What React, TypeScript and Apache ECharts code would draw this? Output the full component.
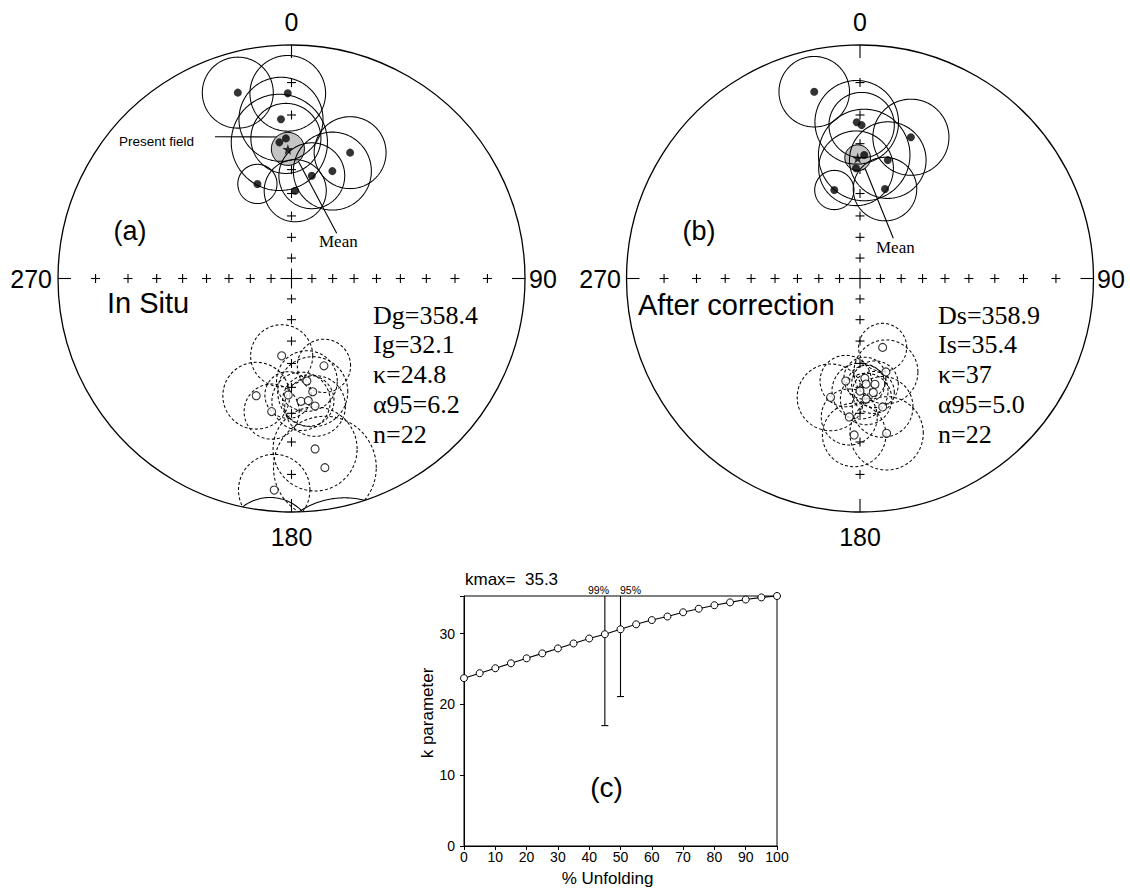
import React, { useEffect, useRef } from 'react';
import * as echarts from 'echarts';

// ---------- Stereonet data (Wulff net, projected east / north, radius = primitive units) ----------
// [east, north, alpha95-circle radius]
const inSituLower: number[][] = [
  [-0.230, 0.796, 0.152],
  [-0.016, 0.793, 0.162],
  [-0.045, 0.682, 0.180],
  [-0.052, 0.583, 0.206],
  [-0.024, 0.600, 0.150],
  [0.251, 0.539, 0.154],
  [0.175, 0.460, 0.167],
  [0.087, 0.440, 0.141],
  [-0.146, 0.405, 0.084],
  [0.016, 0.376, 0.133],
];
const inSituUpper: number[][] = [
  [-0.042, -0.331, 0.133],
  [0.139, -0.374, 0.114],
  [0.066, -0.439, 0.130],
  [0.091, -0.485, 0.150],
  [-0.151, -0.502, 0.143],
  [-0.014, -0.499, 0.100],
  [0.041, -0.526, 0.125],
  [0.072, -0.523, 0.110],
  [0.101, -0.546, 0.130],
  [-0.085, -0.570, 0.118],
  [0.101, -0.730, 0.180],
  [0.143, -0.810, 0.220],
  [-0.074, -0.906, 0.153],
];
const tiltLower: number[][] = [
  [-0.196, 0.800, 0.151],
  [-0.014, 0.669, 0.179],
  [0.007, 0.657, 0.140],
  [0.218, 0.605, 0.163],
  [0.018, 0.529, 0.196],
  [0.119, 0.507, 0.164],
  [-0.017, 0.472, 0.160],
  [-0.110, 0.379, 0.084],
  [0.107, 0.383, 0.136],
];
const tiltUpper: number[][] = [
  [0.097, -0.295, 0.103],
  [0.111, -0.400, 0.137],
  [0.021, -0.427, 0.090],
  [-0.061, -0.439, 0.110],
  [0.026, -0.452, 0.080],
  [0.064, -0.453, 0.100],
  [0.000, -0.482, 0.120],
  [0.057, -0.488, 0.090],
  [0.026, -0.516, 0.110],
  [-0.126, -0.509, 0.143],
  [0.097, -0.550, 0.130],
  [-0.046, -0.593, 0.120],
  [-0.025, -0.670, 0.136],
  [0.114, -0.663, 0.157],
];

// statistics: D, I, kappa, alpha95, n
const statNamesA = ['Dg', 'Ig', 'κ', 'α95', 'n'];
const statValuesA = ['358.4', '32.1', '24.8', '6.2', '22'];
const statNamesB = ['Ds', 'Is', 'κ', 'α95', 'n'];
const statValuesB = ['358.9', '35.4', '37', '5.0', '22'];

// net graticule (colatitudes, degrees)
const netTicks = [10, 20, 30, 40, 50, 60, 70, 80];

// ---------- fold test data ----------
const unfoldPct = [0, 5, 10, 15, 20, 25, 30, 35, 40, 45, 50, 55, 60, 65, 70, 75, 80, 85, 90, 95, 100];
const kParam = [23.7, 24.4, 25.1, 25.8, 26.5, 27.2, 27.9, 28.6, 29.3, 29.9, 30.6, 31.3, 31.9, 32.4, 33.0, 33.5, 34.0, 34.4, 34.8, 35.1, 35.3];
const kMax = 35.3;
const confPct = [45, 50];
const confLow = [17.0, 21.1];
const confNames = ['99%', '95%'];
const xTicks = [0, 10, 20, 30, 40, 50, 60, 70, 80, 90, 100];

const SANS = 'Liberation Sans';
const SERIF = 'Liberation Serif';

function meanGeom(dec: number, inc: number, a95: number) {
  const th = ((90 - inc) * Math.PI) / 180;
  const a = (a95 * Math.PI) / 180;
  const d = (dec * Math.PI) / 180;
  const rho = Math.tan(th / 2);
  const r1 = Math.tan((th - a) / 2);
  const r2 = Math.tan((th + a) / 2);
  const rc = (r1 + r2) / 2;
  return {
    pt: [rho * Math.sin(d), rho * Math.cos(d)],
    circle: [rc * Math.sin(d), rc * Math.cos(d), (r2 - r1) / 2],
  };
}

const seg = (x1: number, y1: number, x2: number, y2: number, w = 1.1) => ({
  type: 'line',
  shape: { x1, y1, x2, y2 },
  style: { stroke: '#000', lineWidth: w },
});

function netSeries(gi: number) {
  return {
    type: 'custom',
    xAxisIndex: gi,
    yAxisIndex: gi,
    z: 1,
    silent: true,
    data: [[0, 0]],
    renderItem: (_p: any, api: any) => {
      const c = api.coord([0, 0]);
      const R = api.size([1, 1])[0];
      const children: any[] = [
        { type: 'circle', shape: { cx: c[0], cy: c[1], r: R }, style: { fill: 'none', stroke: '#000', lineWidth: 1.3 } },
      ];
      const arm = 4.5;
      const dirs = [[1, 0], [-1, 0], [0, 1], [0, -1]];
      netTicks.forEach((t) => {
        const rho = Math.tan(((t / 2) * Math.PI) / 180);
        dirs.forEach(([dx, dy]) => {
          const p = api.coord([dx * rho, dy * rho]);
          children.push(seg(p[0] - arm, p[1], p[0] + arm, p[1]));
          children.push(seg(p[0], p[1] - arm, p[0], p[1] + arm));
        });
      });
      children.push(seg(c[0] - 11, c[1], c[0] + 11, c[1]));
      children.push(seg(c[0], c[1] - 10, c[0], c[1] + 10));
      dirs.forEach(([dx, dy]) => {
        const p = api.coord([dx, dy]);
        children.push(seg(p[0], p[1], p[0] - dx * 13, p[1] + dy * 13));
      });
      return { type: 'group', children };
    },
  };
}

function circleSeries(data: number[][], gi: number, dashed: boolean) {
  return {
    type: 'custom',
    xAxisIndex: gi,
    yAxisIndex: gi,
    z: 3,
    silent: true,
    data,
    encode: { x: 0, y: 1 },
    renderItem: (_p: any, api: any) => {
      const cx = api.value(0);
      const cy = api.value(1);
      const r = api.value(2);
      const N = 240;
      const pt = (t: number) => [cx + r * Math.cos(t), cy + r * Math.sin(t)];
      const segs: { pts: number[][]; out: boolean }[] = [];
      let cur: number[][] = [];
      let prevOut: boolean | null = null;
      let prevT = 0;
      for (let i = 0; i <= N; i++) {
        const t = (2 * Math.PI * i) / N;
        const [x, y] = pt(t);
        const d2 = x * x + y * y;
        const out = d2 > 1;
        if (prevOut !== null && out !== prevOut) {
          let lo = prevT;
          let hi = t;
          for (let k = 0; k < 20; k++) {
            const m = (lo + hi) / 2;
            const [mx, my] = pt(m);
            if (mx * mx + my * my > 1 === prevOut) lo = m;
            else hi = m;
          }
          const [bx, by] = pt((lo + hi) / 2);
          const bl = Math.hypot(bx, by);
          const b = api.coord([bx / bl, by / bl]);
          cur.push(b);
          segs.push({ pts: cur, out: prevOut });
          cur = [b];
        }
        let px = x;
        let py = y;
        if (out) {
          px = x / d2;
          py = y / d2;
        }
        cur.push(api.coord([px, py]));
        prevOut = out;
        prevT = t;
      }
      segs.push({ pts: cur, out: !!prevOut });
      return {
        type: 'group',
        children: segs
          .filter((s) => s.pts.length > 1)
          .map((s) => {
            const d = s.out ? !dashed : dashed;
            const style: any = { fill: 'none', stroke: '#000', lineWidth: 1.05 };
            if (d) style.lineDash = [3, 2.2];
            return { type: 'polyline', shape: { points: s.pts }, style };
          }),
      };
    },
  };
}

function meanSeries(gi: number, stats: string[]) {
  const g = meanGeom(parseFloat(stats[0]), parseFloat(stats[1]), parseFloat(stats[3]));
  return [
    {
      type: 'custom',
      xAxisIndex: gi,
      yAxisIndex: gi,
      z: 2,
      silent: true,
      data: [g.circle],
      encode: { x: 0, y: 1 },
      renderItem: (_p: any, api: any) => {
        const c = api.coord([api.value(0), api.value(1)]);
        const r = api.size([api.value(2), api.value(2)])[0];
        return { type: 'circle', shape: { cx: c[0], cy: c[1], r }, style: { fill: '#c4c4c4', stroke: '#000', lineWidth: 1 } };
      },
    },
    {
      type: 'scatter',
      xAxisIndex: gi,
      yAxisIndex: gi,
      z: 5,
      silent: true,
      symbol: 'path://M50,0 L61,35 98,35 68,57 79,91 50,70 21,91 32,57 2,35 39,35 Z',
      symbolSize: 11,
      itemStyle: { color: '#000' },
      data: [g.pt],
    },
  ];
}

function dotSeries(data: number[][], gi: number, open: boolean) {
  return {
    type: 'scatter',
    xAxisIndex: gi,
    yAxisIndex: gi,
    z: 4,
    silent: true,
    symbol: 'circle',
    symbolSize: 8,
    itemStyle: open ? { color: '#fff', borderColor: '#000', borderWidth: 1.1 } : { color: '#000' },
    data: data.map((d) => [d[0], d[1]]),
  };
}

const txt = (text: string, x: number, y: number, size: number, align = 'center', family = SANS, extra: any = {}) => ({
  type: 'text',
  x,
  y,
  silent: true,
  ...extra,
  style: {
    text,
    fontSize: size,
    fontFamily: family,
    fill: '#000',
    align,
    verticalAlign: 'middle',
    textAlign: align,
    textVerticalAlign: 'middle',
  },
});

const gline = (x1: number, y1: number, x2: number, y2: number) => ({
  type: 'line',
  silent: true,
  shape: { x1, y1, x2, y2 },
  style: { stroke: '#000', lineWidth: 1.1 },
});

function buildOption() {
  const netA = { left: 58, top: 45, size: 467 };
  const netB = { left: 626.5, top: 45, size: 467 };
  const cA = netA.left + netA.size / 2;
  const cB = netB.left + netB.size / 2;
  const cy = netA.top + netA.size / 2;

  const hiddenAxis = (gi: number) => ({ gridIndex: gi, type: 'value', min: -1, max: 1, show: false });

  const graphics: any[] = [
    // panel (a)
    txt('0', cA, 22, 25),
    txt('180', cA, 537, 25),
    txt('270', 52, cy, 25, 'right'),
    txt('90', 529, cy, 25, 'left'),
    txt('(a)', 130, 231, 27),
    txt('In Situ', 107, 303, 29, 'left'),
    txt('Present field', 119, 141, 13.5, 'left'),
    gline(215, 136.7, 284, 137),
    txt('Mean', 319, 241.5, 17, 'left', SERIF),
    gline(293.3, 151.7, 336.7, 233.3),
    ...statNamesA.map((n, i) => txt(`${n}=${statValuesA[i]}`, 373, 315 + i * 29.8, 26, 'left', SERIF)),
    // panel (b)
    txt('0', cB, 22, 25),
    txt('180', cB, 537, 25),
    txt('270', 621, cy, 25, 'right'),
    txt('90', 1097, cy, 25, 'left'),
    txt('(b)', 699, 231, 27),
    txt('After correction', 638, 305, 29, 'left'),
    txt('Mean', 876, 247.5, 17, 'left', SERIF),
    gline(861.7, 160, 893.3, 238.3),
    ...statNamesB.map((n, i) => txt(`${n}=${statValuesB[i]}`, 938, 315 + i * 29.8, 26, 'left', SERIF)),
    // panel (c)
    txt(`kmax=  ${kMax}`, 465, 579, 17, 'left'),
    txt(confNames[0], 598.5, 590, 10.5),
    txt(confNames[1], 630.5, 590, 10.5),
    txt('(c)', 606.5, 787, 28),
    txt('% Unfolding', 607.5, 878, 17),
    txt('k parameter', 427.5, 713, 17, 'center', SANS, { rotation: Math.PI / 2 }),
  ];

  return {
    animation: false,
    backgroundColor: '#fff',
    grid: [
      { left: netA.left, top: netA.top, width: netA.size, height: netA.size },
      { left: netB.left, top: netB.top, width: netB.size, height: netB.size },
      { left: 464, top: 596, width: 313, height: 250, show: true, borderColor: '#000', borderWidth: 1, backgroundColor: 'transparent' },
    ],
    xAxis: [
      hiddenAxis(0),
      hiddenAxis(1),
      {
        gridIndex: 2,
        type: 'value',
        min: xTicks[0],
        max: xTicks[xTicks.length - 1],
        interval: 10,
        axisLine: { lineStyle: { color: '#000', width: 1 } },
        axisTick: { show: true, length: 4, lineStyle: { color: '#000' } },
        axisLabel: { color: '#000', fontSize: 14, fontFamily: SANS, margin: 4 },
        splitLine: { show: false },
      },
    ],
    yAxis: [
      hiddenAxis(0),
      hiddenAxis(1),
      {
        gridIndex: 2,
        type: 'value',
        min: 0,
        max: kMax,
        interval: 10,
        axisLine: { show: true, lineStyle: { color: '#000', width: 1 } },
        axisTick: { show: true, length: 4, lineStyle: { color: '#000' } },
        axisLabel: {
          color: '#000',
          fontSize: 14,
          fontFamily: SANS,
          margin: 9,
          formatter: (v: number) => (Math.abs(v % 10) < 1e-9 ? String(v) : ''),
        },
        splitLine: { show: false },
      },
    ],
    graphic: graphics,
    series: [
      netSeries(0),
      ...meanSeries(0, statValuesA),
      circleSeries(inSituLower, 0, false),
      circleSeries(inSituUpper, 0, true),
      dotSeries(inSituLower, 0, false),
      dotSeries(inSituUpper, 0, true),
      netSeries(1),
      ...meanSeries(1, statValuesB),
      circleSeries(tiltLower, 1, false),
      circleSeries(tiltUpper, 1, true),
      dotSeries(tiltLower, 1, false),
      dotSeries(tiltUpper, 1, true),
      {
        type: 'line',
        xAxisIndex: 2,
        yAxisIndex: 2,
        data: unfoldPct.map((u, i) => [u, kParam[i]]),
        symbol: 'circle',
        symbolSize: 7,
        showAllSymbol: true,
        lineStyle: { color: '#000', width: 1.1 },
        itemStyle: { color: '#fff', borderColor: '#000', borderWidth: 1 },
        z: 4,
      },
      {
        type: 'custom',
        xAxisIndex: 2,
        yAxisIndex: 2,
        z: 3,
        silent: true,
        data: confPct.map((p, i) => [p, confLow[i], kMax]),
        encode: { x: 0, y: [1, 2] },
        renderItem: (_p: any, api: any) => {
          const lo = api.coord([api.value(0), api.value(1)]);
          const hi = api.coord([api.value(0), api.value(2)]);
          return {
            type: 'group',
            children: [seg(lo[0], lo[1], hi[0], hi[1]), seg(lo[0] - 3.5, lo[1], lo[0] + 3.5, lo[1])],
          };
        },
      },
    ],
  };
}

export default function App() {
  const ref = useRef<HTMLDivElement>(null);
  useEffect(() => {
    const chart = echarts.init(ref.current as HTMLDivElement, null, { renderer: 'svg' });
    chart.setOption(buildOption() as any);
    return () => chart.dispose();
  }, []);
  return <div ref={ref} style={{ position: 'absolute', left: 0, top: 0, width: 1130, height: 888, background: '#fff' }} />;
}
